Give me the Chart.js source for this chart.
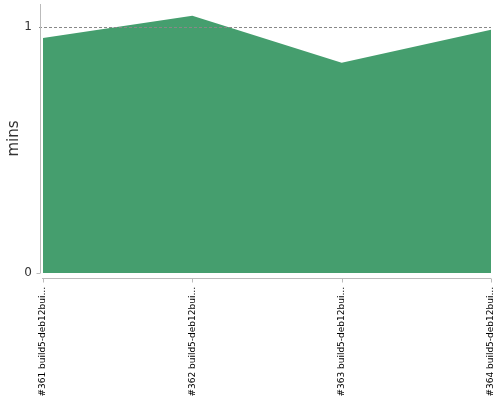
<!DOCTYPE html>
<html>
<head>
<meta charset="utf-8">
<script src="https://cdn.jsdelivr.net/npm/chart.js@4"></script>
<style>
  html, body { margin: 0; padding: 0; background: #fff; }
  #wrap { width: 500px; height: 400px; }
</style>
</head>
<body>
<div id="wrap"><canvas id="chart" width="500" height="400"></canvas></div>
<script>
// build labels as drawn (truncated) and durations in minutes
const buildLabels = [
  "#361 build5-deb12bui...",
  "#362 build5-deb12bui...",
  "#363 build5-deb12bui...",
  "#364 build5-deb12bui...",
];
const durationMins = [0.955, 1.045, 0.854, 0.988];
const yTicks = [0, 1];

const axisColor = "#bbbbbb";

// axis lines sit a few pixels away from the plot area, jfreechart style
const axesPlugin = {
  id: "offsetAxes",
  afterDraw(chart) {
    const { ctx, chartArea, scales } = chart;
    const y = scales.y;
    const x = scales.x;
    ctx.save();
    // dashed gridline at 1
    ctx.strokeStyle = "#888888";
    ctx.lineWidth = 1;
    ctx.setLineDash([3, 2]);
    const y1 = Math.round(y.getPixelForValue(1)) + 0.5;
    ctx.beginPath();
    ctx.moveTo(chartArea.left - 4, y1);
    ctx.lineTo(chartArea.right, y1);
    ctx.stroke();
    ctx.setLineDash([]);
    ctx.strokeStyle = axisColor;
    // y axis
    const ax = chartArea.left - 2.5;
    ctx.beginPath();
    ctx.moveTo(ax, chartArea.top);
    ctx.lineTo(ax, chartArea.bottom);
    ctx.stroke();
    const y0 = Math.round(y.getPixelForValue(0)) + 0.5;
    ctx.beginPath();
    ctx.moveTo(ax - 4, y0);
    ctx.lineTo(ax, y0);
    ctx.stroke();
    // x axis
    const bx = chartArea.bottom + 5.5;
    ctx.beginPath();
    ctx.moveTo(chartArea.left - 1, bx);
    ctx.lineTo(chartArea.right, bx);
    ctx.stroke();
    buildLabels.forEach((_, i) => {
      const px = Math.round(x.getPixelForValue(i)) + 0.5;
      ctx.beginPath();
      ctx.moveTo(px, bx);
      ctx.lineTo(px, bx + 4);
      ctx.stroke();
    });
    ctx.restore();
  },
};

new Chart(document.getElementById("chart"), {
  type: "line",
  data: {
    labels: buildLabels,
    datasets: [
      {
        label: "Duration",
        data: durationMins,
        fill: "origin",
        backgroundColor: "#459e6e",
        borderColor: "#459e6e",
        borderWidth: 0,
        pointRadius: 0,
        tension: 0,
      },
    ],
  },
  options: {
    responsive: false,
    animation: false,
    layout: { padding: { top: 4, right: 9, left: 5, bottom: 0 } },
    plugins: { legend: { display: false }, tooltip: { enabled: false } },
    scales: {
      x: {
        offset: false,
        grid: { display: false },
        border: { display: false },
        ticks: {
          autoSkip: false,
          maxRotation: 90,
          minRotation: 90,
          padding: 6,
          color: "#000000",
          font: { family: "DejaVu Sans", size: 9 },
        },
        afterFit(scale) {
          scale.height = 127;
          scale.paddingLeft = 0;
          scale.paddingRight = 0;
        },
      },
      y: {
        min: 0,
        max: 1.093,
        grid: { display: false },
        border: { display: false },
        afterBuildTicks(scale) {
          scale.ticks = yTicks.map((v) => ({ value: v }));
        },
        ticks: {
          padding: 3,
          color: "#333333",
          font: { family: "DejaVu Sans", size: 12 },
        },
        title: {
          display: true,
          text: "mins",
          color: "#333333",
          font: { family: "DejaVu Sans", size: 15 },
          padding: 0,
        },
        afterFit(scale) {
          scale.width = 38;
          scale.paddingTop = 0;
          scale.paddingBottom = 0;
        },
      },
    },
  },
  plugins: [axesPlugin],
});
</script>
</body>
</html>
